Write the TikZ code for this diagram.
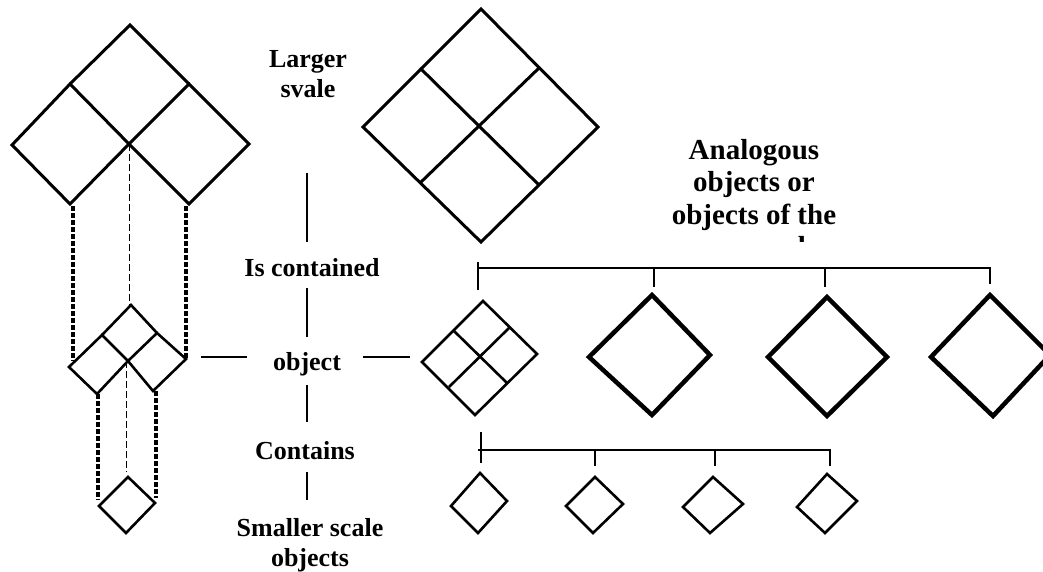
\documentclass[tikz,border=0pt]{standalone}
\usepackage{fontspec}
\setmainfont{Liberation Serif}
\begin{document}
\begin{tikzpicture}[x=1pt,y=-1pt,line join=miter,
  shp/.style={line width=3pt},
  smallshp/.style={line width=2.6pt},
  heavyshp/.style={line width=4.5pt},
  link/.style={line width=2pt},
  bigdash/.style={line width=3.5pt,dash pattern=on 5pt off 2pt},
  thindash/.style={line width=1pt,dash pattern=on 7pt off 3pt},
  lbl/.style={font=\bfseries\fontsize{26}{30}\selectfont,align=center,inner sep=0pt},
  rlbl/.style={font=\bfseries\fontsize{29}{32.5}\selectfont,align=center,inner sep=0pt}]
\useasboundingbox (0,0) rectangle (1043,572);

% ---------- left big shape ----------
\coordinate (L1t) at (130,25);
\coordinate (L1l) at (70,84);
\coordinate (L1r) at (189,84);
\coordinate (Lc) at (129,144);
\coordinate (Ll) at (12,145);
\coordinate (Lr) at (249,144);
\coordinate (Lbl) at (70,204);
\coordinate (Lbr) at (189,204);
\draw[shp] (L1l) -- (L1t) -- (L1r);
\draw[shp] (L1l) -- (Ll) -- (Lbl) -- (Lc) -- cycle;
\draw[shp] (L1r) -- (Lc) -- (Lbr) -- (Lr) -- cycle;

% ---------- left middle shape ----------
\coordinate (Mt) at (131,305);
\coordinate (M1l) at (102,335);
\coordinate (M1r) at (157,333);
\coordinate (Mc) at (128,361);
\coordinate (Ml) at (69,367);
\coordinate (Mbl) at (97,394);
\coordinate (Mr) at (186,359);
\coordinate (Mbr) at (153,391);
\draw[smallshp] (M1l) -- (Mt) -- (M1r);
\draw[smallshp] (M1l) -- (Ml) -- (Mbl) -- (Mc) -- cycle;
\draw[smallshp] (M1r) -- (Mc) -- (Mbr) -- (Mr) -- cycle;

% ---------- left small shape ----------
\coordinate (Bt) at (128,477);
\coordinate (Bl) at (99,506);
\coordinate (Bb) at (126,533);
\coordinate (Br) at (155,503);
\draw[smallshp] (Bt) -- (Bl) -- (Bb) -- (Br) -- cycle;

% ---------- dashed projections ----------
\coordinate (d1a) at (73,206);  \coordinate (d1b) at (73,361);
\coordinate (d2a) at (186,206); \coordinate (d2b) at (186,358);
\coordinate (d3a) at (98,394);  \coordinate (d3b) at (98,500);
\coordinate (d4a) at (156,391); \coordinate (d4b) at (156,498);
\draw[bigdash] (d1a) -- (d1b);
\draw[bigdash] (d2a) -- (d2b);
\draw[bigdash] (d3a) -- (d3b);
\draw[bigdash] (d4a) -- (d4b);
\draw[thindash] (Lc) -- (Lc |- Mt);
\draw[thindash] (126,361) -- (126,472);

% ---------- middle column labels ----------
\node[lbl] (larger) at (308,74) {Larger\\svale};
\node[lbl] (contained) at (312,268) {Is contained};
\node[lbl] (object) at (307,364) {object};
\node[lbl] (contains) at (305,451) {Contains};
\node[lbl] (smaller) at (310,545) {Smaller scale\\objects};

\coordinate (v1a) at (307,173); \coordinate (v1b) at (307,242);
\coordinate (v2a) at (307,288); \coordinate (v2b) at (307,337);
\coordinate (v3a) at (307,385); \coordinate (v3b) at (307,422);
\coordinate (v4a) at (307,472); \coordinate (v4b) at (307,500);
\draw[link] (v1a) -- (v1b);
\draw[link] (v2a) -- (v2b);
\draw[link] (v3a) -- (v3b);
\draw[link] (v4a) -- (v4b);
\coordinate (h1a) at (201,357); \coordinate (h1b) at (247,357);
\coordinate (h2a) at (363,357); \coordinate (h2b) at (410,357);
\draw[link] (h1a) -- (h1b);
\draw[link] (h2a) -- (h2b);

% ---------- big four-part diamond ----------
\coordinate (Rt) at (481,9);
\coordinate (Rl) at (363,127);
\coordinate (Rr) at (598,127);
\coordinate (Rb) at (481,242);
\coordinate (Rm1) at (420,68);
\coordinate (Rm2) at (539,68);
\coordinate (Rm3) at (420,183);
\coordinate (Rm4) at (539,185);
\draw[shp] (Rt) -- (Rr) -- (Rb) -- (Rl) -- cycle;
\draw[shp] (Rm1) -- (Rm4);
\draw[shp] (Rm2) -- (Rm3);

% ---------- analogous label ----------
\begin{scope}
\clip (600,100) rectangle (900,241);
\node[rlbl,anchor=north] (analog) at (754,139) {Analogous\\objects or\\objects of the\\same scale};
\end{scope}

% ---------- top bracket ----------
\coordinate (tb0) at (478,268); \coordinate (tb1) at (654,268);
\coordinate (tb2) at (825,268); \coordinate (tb3) at (990,268);
\draw[link] (tb0) -- (tb3) -- (990,284);
\draw[link] (478,262) -- (478,290);
\draw[link] (tb1) -- (654,287);
\draw[link] (tb2) -- (825,287);

% ---------- object row ----------
\coordinate (St) at (483,301);
\coordinate (Sl) at (422,362);
\coordinate (Sr) at (537,354);
\coordinate (Sb) at (475,415);
\draw[smallshp] (St) -- (Sr) -- (Sb) -- (Sl) -- cycle;
\draw[smallshp] (454,331) -- (507,383);
\draw[smallshp] (509,328) -- (449,387);

\draw[heavyshp] (652,295) -- (710,355) -- (652,415) -- (589,357) -- cycle;
\draw[heavyshp] (827,297) -- (887,357) -- (827,416) -- (768,357) -- cycle;
\draw[heavyshp] (990,295) -- (1050,355) -- (993,416) -- (931,357) -- cycle;

% ---------- bottom bracket ----------
\coordinate (bb0) at (478,450); \coordinate (bb1) at (595,450);
\coordinate (bb2) at (715,450); \coordinate (bb3) at (830,450);
\draw[link] (bb0) -- (bb3) -- (830,466);
\draw[link] (481,432) -- (481,463);
\draw[link] (bb1) -- (595,466);
\draw[link] (bb2) -- (715,466);

% ---------- small diamonds ----------
\draw[smallshp] (480,473) -- (507,501) -- (478,533) -- (451,506) -- cycle;
\draw[smallshp] (595,477) -- (623,504) -- (593,533) -- (566,506) -- cycle;
\draw[smallshp] (713,477) -- (743,504) -- (710,533) -- (683,507) -- cycle;
\draw[smallshp] (827,474) -- (857,501) -- (825,533) -- (797,507) -- cycle;
\end{tikzpicture}
\end{document}
